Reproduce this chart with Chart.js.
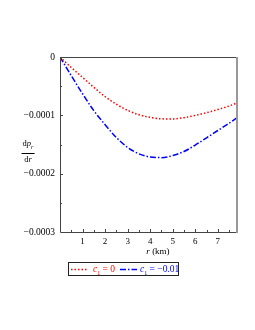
<!DOCTYPE html>
<html>
<head>
<meta charset="utf-8">
<script src="https://cdn.jsdelivr.net/npm/chart.js@4"></script>
<style>
  html, body { margin: 0; padding: 0; background: #fff; }
  #wrap { position: relative; width: 255px; height: 330px; font-family: "Liberation Serif", serif; }
  #c { position: absolute; left: 0; top: 0; }
  .ylab { position: absolute; left: 28px; top: 138px; transform: translateX(-50%); text-align: center; font-size: 8.5px; line-height: 10px; }
  .ylab .num { border-bottom: 1px solid #000; padding: 0 1px 1px 1px; }
  .xlab { position: absolute; left: 128px; top: 246px; width: 60px; text-align: center; font-size: 9px; }
  .legend { position: absolute; left: 68px; top: 262px; width: 109px; height: 12px; border: 1px solid #222;
            font-size: 9.5px; line-height: 12px; white-space: nowrap; }
  .legend span { position: absolute; top: 0; }
  .legend svg { position: absolute; top: 5px; }
</style>
</head>
<body>
<div id="wrap">
  <canvas id="c" width="255" height="330"></canvas>
  <div class="ylab"><div class="num">d<i>p</i><sub style="font-size:6px"><i>r</i></sub></div><div>d<i>r</i></div></div>
  <div class="xlab"><i>r</i> (km)</div>
  <div class="legend">
    <svg style="left:2px" width="17" height="3"><line x1="0" y1="1.5" x2="17" y2="1.5" stroke="#ff0000" stroke-width="1.5" stroke-dasharray="1.5,2"/></svg>
    <span style="left:24px;color:#ff0000"><i>c</i><sub style="font-size:6px">1</sub> = 0</span>
    <svg style="left:51px" width="17" height="3"><line x1="0" y1="1.5" x2="17" y2="1.5" stroke="#0000ff" stroke-width="1.5" stroke-dasharray="6,2,1.5,2"/></svg>
    <span style="left:71px;color:#0000ff"><i>c</i><sub style="font-size:6px">1</sub> = −0.01</span>
  </div>
</div>
<script>
// valores (r em km, dp_r/dr em unidades de 1e-4)
const rValues = [0, 0.5, 1, 1.5, 2, 2.5, 3, 3.5, 4, 4.5, 5, 5.5, 6, 6.5, 7, 7.5, 7.85];
const dprC0 = [0, -0.18, -0.35, -0.52, -0.68, -0.81, -0.915, -0.99, -1.035, -1.06, -1.062, -1.04, -1.0, -0.955, -0.90, -0.84, -0.786];
const dprC1 = [0, -0.32, -0.63, -0.92, -1.16, -1.38, -1.55, -1.66, -1.715, -1.725, -1.69, -1.62, -1.51, -1.385, -1.26, -1.135, -1.04];
const xTicks = [1, 2, 3, 4, 5, 6, 7];
const yTicks = [0, -0.0001, -0.0002, -0.0003];

function toPoints(ys) {
    return rValues.map((r, i) => ({ x: r, y: ys[i] * 1e-4 }));
}

// moldura e marcas internas dos eixos
const frame = {
    id: 'frame',
    afterDraw(chart) {
        const ctx = chart.ctx;
        const a = chart.chartArea;
        const xs = chart.scales.x, ys = chart.scales.y;
        ctx.save();
        ctx.strokeStyle = '#444';
        ctx.lineWidth = 1;
        ctx.beginPath();
        ctx.moveTo(a.left + 0.5, a.top + 0.5);
        ctx.lineTo(a.right, a.top + 0.5);
        ctx.moveTo(a.left + 0.5, a.top);
        ctx.lineTo(a.left + 0.5, a.bottom + 0.5);
        ctx.lineTo(a.right, a.bottom + 0.5);
        ctx.stroke();
        ctx.strokeStyle = '#999';
        ctx.lineWidth = 2;
        ctx.beginPath();
        ctx.moveTo(a.right, a.top);
        ctx.lineTo(a.right, a.bottom + 1);
        ctx.stroke();
        ctx.strokeStyle = '#444';
        ctx.lineWidth = 1;
        ctx.beginPath();
        for (let v = 0.5; v < 7.9; v += 0.5) {
            const px = Math.round(xs.getPixelForValue(v)) + 0.5;
            const len = Number.isInteger(v) ? 3 : 2;
            ctx.moveTo(px, a.bottom);
            ctx.lineTo(px, a.bottom - len);
        }
        for (let v = -0.00005; v > -0.0003; v -= 0.00005) {
            const py = Math.round(ys.getPixelForValue(v)) + 0.5;
            const len = Math.abs(v * 1e4 - Math.round(v * 1e4)) < 1e-6 ? 3 : 2;
            ctx.moveTo(a.left, py);
            ctx.lineTo(a.left + len, py);
        }
        ctx.stroke();
        ctx.restore();
    }
};

new Chart(document.getElementById('c'), {
    type: 'line',
    data: {
        datasets: [
            {
                label: 'c1 = 0',
                data: toPoints(dprC0),
                borderColor: '#ff0000',
                borderWidth: 1.5,
                borderDash: [1.5, 2],
                pointRadius: 0,
                cubicInterpolationMode: 'monotone',
                fill: false
            },
            {
                label: 'c1 = -0.01',
                data: toPoints(dprC1),
                borderColor: '#0000ff',
                borderWidth: 1.5,
                borderDash: [6, 2, 1.5, 2],
                pointRadius: 0,
                cubicInterpolationMode: 'monotone',
                fill: false
            }
        ]
    },
    options: {
        responsive: false,
        animation: false,
        layout: { padding: { left: 0, right: 18, top: 57, bottom: 83 } },
        plugins: { legend: { display: false }, tooltip: { enabled: false } },
        scales: {
            x: {
                type: 'linear',
                min: 0,
                max: 7.85,
                grid: { display: false, drawTicks: false },
                border: { display: false },
                afterFit(s) { s.height = 15; },
                afterBuildTicks(s) { s.ticks = xTicks.map(v => ({ value: v })); },
                ticks: { color: '#000', padding: 4, maxRotation: 0, font: { family: 'Liberation Serif', size: 9 } }
            },
            y: {
                min: -0.0003,
                max: 0,
                grid: { display: false, drawTicks: false },
                border: { display: false },
                afterFit(s) { s.width = 60; },
                afterBuildTicks(s) { s.ticks = yTicks.map(v => ({ value: v })); },
                ticks: {
                    color: '#000',
                    padding: 5,
                    font: { family: 'Liberation Serif', size: 9.5 },
                    callback: v => v === 0 ? '0' : '−' + Math.abs(v).toFixed(4)
                }
            }
        }
    },
    plugins: [frame]
});
</script>
</body>
</html>
